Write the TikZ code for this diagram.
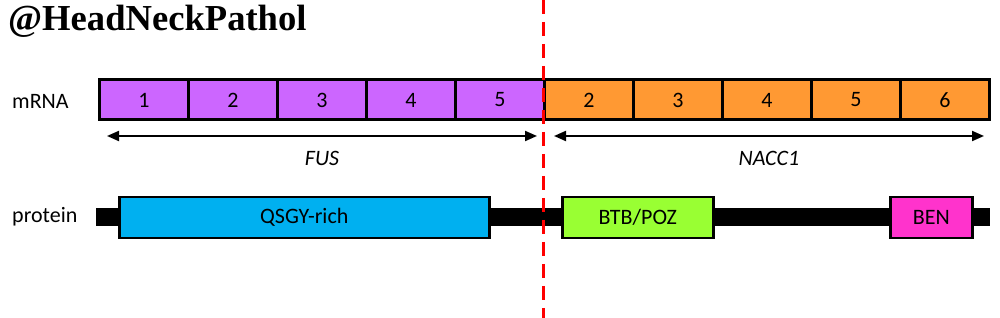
\documentclass[tikz,border=0pt]{standalone}
\usepackage{fontspec}
\setmainfont{Carlito}
\newfontfamily\titlefont{Liberation Serif}
\usetikzlibrary{positioning, arrows.meta, calc}
\definecolor{fuspurple}{HTML}{CC66FF}
\definecolor{naccorange}{HTML}{FF9933}
\definecolor{qsgyblue}{HTML}{00B0F0}
\definecolor{btbgreen}{HTML}{99FF33}
\definecolor{benpink}{HTML}{FF33CC}
\definecolor{cutred}{HTML}{FF0000}

\tikzset{
  exonbox/.style={draw=black, line width=3pt, minimum width=89pt, minimum height=40pt,
    inner sep=0pt, anchor=west, font=\fontsize{22}{26}\selectfont},
  domainbox/.style={draw=black, line width=2.5pt, minimum height=41pt, inner sep=0pt,
    anchor=west, font=\fontsize{22}{26}\selectfont},
  rowlabel/.style={anchor=west, inner sep=0pt, font=\fontsize{22}{26}\selectfont},
  genelabel/.style={inner sep=0pt, font=\fontsize{22}{26}\selectfont\itshape},
  span/.style={{Triangle[length=12pt,width=10pt]}-{Triangle[length=12pt,width=10pt]}, line width=2pt}
}

\begin{document}
\begin{tikzpicture}[x=1pt, y=1pt]
    \useasboundingbox (0,0) rectangle (1000,318);

    \node[anchor=west, inner sep=0pt, font=\titlefont\bfseries\fontsize{36.6}{40}\selectfont]
      (title) at (8,297) {@HeadNeckPathol};

    % mRNA row
    \node[rowlabel] (mrna) at (12,217) {mRNA};
    \foreach \n [count=\i from 0] in {1,2,3,4,5}
      \node[exonbox, fill=fuspurple] (fus\n) at (98+\i*89,218) {\n};
    \foreach \n [count=\i from 0] in {2,3,4,5,6}
      \node[exonbox, fill=naccorange] (nacc\n) at (543+\i*89,218) {\n};

    \coordinate (fusL) at (107,182);
    \coordinate (fusR) at (537,182);
    \coordinate (naccL) at (554,182);
    \coordinate (naccR) at (984,182);
    \draw[span] (fusL) -- (fusR);
    \draw[span] (naccL) -- (naccR);
    \node[genelabel] (fus) at ($(fusL)!0.5!(fusR)+(0,-22)$) {FUS};
    \node[genelabel] (nacc) at ($(naccL)!0.5!(naccR)+(0,-22)$) {NACC1};

    % protein row
    \node[rowlabel] (protein) at (12,101) {protein};
    \node[fill=black, minimum width=894pt, minimum height=18pt, inner sep=0pt, anchor=west]
      (backbone) at (96,100.5) {};
    \node[domainbox, fill=qsgyblue, minimum width=370pt] (qsgy) at (118,100.5) {QSGY-rich};
    \node[domainbox, fill=btbgreen, minimum width=151pt] (btb) at (561,100.5) {BTB/POZ};
    \node[domainbox, fill=benpink, minimum width=82pt] (ben) at (889,100.5) {BEN};

    % breakpoint
    \coordinate (cuttop) at (543,318);
    \coordinate (cutbot) at (543,0);
    \draw[cutred, line width=3pt, dash pattern=on 14pt off 8pt] (cuttop) -- (cutbot);
  \end{tikzpicture}
\end{document}
